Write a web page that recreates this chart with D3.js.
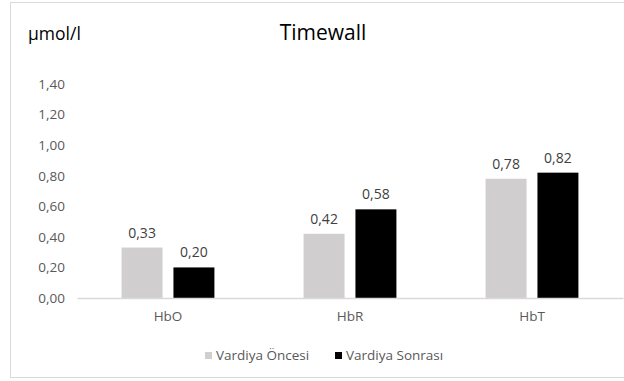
<!DOCTYPE html>
<html>
<head>
<meta charset="utf-8">
<script src="https://cdn.jsdelivr.net/npm/d3@7"></script>
<style>
  html, body { margin: 0; padding: 0; background: #fff; }
  svg text { font-family: "Open Sans", Lato, sans-serif; }
</style>
</head>
<body>
<svg id="chart" width="624" height="381"></svg>
<script>
// Hemoglobin measures before and after the shift
const categories = ["HbO", "HbR", "HbT"];
const seriesNames = ["Vardiya Öncesi", "Vardiya Sonrası"];
const beforeShift = [0.33, 0.42, 0.78];
const afterShift = [0.20, 0.58, 0.82];
const yTicks = [0, 0.2, 0.4, 0.6, 0.8, 1.0, 1.2, 1.4];
const seriesColors = ["#d0cece", "#000000"];

const svg = d3.select("#chart");
const fmt = v => v.toFixed(2).replace(".", ",");

// chart frame
svg.append("rect")
  .attr("x", 10.5).attr("y", 2.5)
  .attr("width", 620).attr("height", 375)
  .attr("fill", "#fff").attr("stroke", "#d9d9d9").attr("stroke-width", 1);

const plot = { left: 77, right: 623, top: 84, bottom: 298 };

const y = d3.scaleLinear().domain([0, 1.4]).range([plot.bottom, plot.top]);
const x0 = d3.scaleBand().domain(categories)
  .range([plot.left, plot.right]).paddingInner(0.49).paddingOuter(0.245);
const x1 = d3.scaleBand().domain(seriesNames)
  .range([0, x0.bandwidth()]).paddingInner(0.21);

// y axis labels
const yAxis = d3.axisLeft(y).tickValues(yTicks).tickFormat(fmt).tickSize(0).tickPadding(12);
const gy = svg.append("g").attr("transform", `translate(${plot.left},0)`).call(yAxis);
gy.select(".domain").remove();
gy.selectAll("text").attr("fill", "#595959").style("font-size", "13.5px");

// bars
const rows = categories.map((c, i) => ({ cat: c, vals: [beforeShift[i], afterShift[i]] }));
const groups = svg.append("g").selectAll("g").data(rows).join("g")
  .attr("transform", d => `translate(${x0(d.cat)},0)`);

groups.selectAll("rect")
  .data(d => d.vals.map((v, j) => ({ name: seriesNames[j], v, j })))
  .join("rect")
  .attr("x", d => x1(d.name))
  .attr("y", d => y(d.v))
  .attr("width", x1.bandwidth())
  .attr("height", d => y(0) - y(d.v))
  .attr("fill", d => seriesColors[d.j]);

groups.selectAll("text.val")
  .data(d => d.vals.map((v, j) => ({ name: seriesNames[j], v, j })))
  .join("text")
  .attr("class", "val")
  .attr("x", d => x1(d.name) + x1.bandwidth() / 2)
  .attr("y", d => y(d.v) - 10)
  .attr("text-anchor", "middle")
  .attr("fill", "#404040")
  .style("font-size", "14px")
  .text(d => fmt(d.v));

// x axis
const xAxis = d3.axisBottom(x0).tickSize(0).tickPadding(13);
const gx = svg.append("g").attr("transform", `translate(0,${plot.bottom})`).call(xAxis);
gx.select(".domain").attr("stroke", "#d9d9d9").attr("stroke-width", 1.5);
gx.selectAll("text").attr("fill", "#595959").style("font-size", "13.5px");

// title and unit
svg.append("text").attr("x", 323).attr("y", 40).attr("text-anchor", "middle")
  .attr("fill", "#000").style("font-size", "21px").text("Timewall");
svg.append("text").attr("x", 28).attr("y", 40)
  .attr("fill", "#000").style("font-size", "17.5px").text("µmol/l");

// legend
const legend = svg.append("g").attr("transform", "translate(205,355)");
const legendX = [0, 130];
seriesNames.forEach((n, i) => {
  const g = legend.append("g").attr("transform", `translate(${legendX[i]},0)`);
  g.append("rect").attr("x", 0).attr("y", -3).attr("width", 7).attr("height", 7).attr("fill", seriesColors[i]);
  g.append("text").attr("x", 11).attr("y", 0).attr("dy", "0.35em")
    .attr("fill", "#595959").style("font-size", "13.5px").text(n);
});
</script>
</body>
</html>
